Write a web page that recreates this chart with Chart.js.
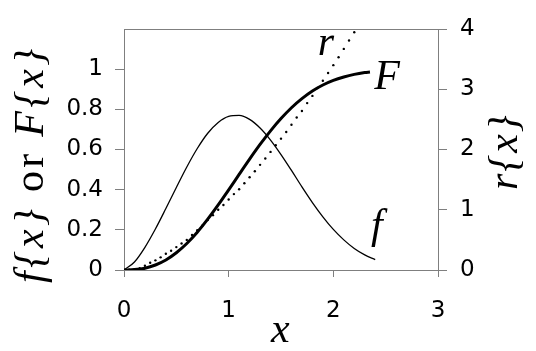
<!DOCTYPE html>
<html>
<head>
<meta charset="utf-8">
<script src="https://cdn.jsdelivr.net/npm/chart.js@4/dist/chart.umd.min.js"></script>
<style>
  html, body { margin: 0; padding: 0; background: #fff; }
  #chart { display: block; }
</style>
</head>
<body>
<canvas id="chart" width="536" height="351"></canvas>
<script>
// values
const xVals = [0, 0.1, 0.2, 0.3, 0.4, 0.5, 0.6, 0.7, 0.8, 0.9, 1.0, 1.1, 1.2,
               1.3, 1.4, 1.5, 1.6, 1.7, 1.8, 1.9, 2.0, 2.1, 2.2, 2.3, 2.4];
const fVals = [0, 0.040, 0.113, 0.204, 0.306, 0.411, 0.513, 0.605, 0.681, 0.735, 0.765, 0.770, 0.750,
               0.707, 0.647, 0.575, 0.496, 0.414, 0.336, 0.265, 0.202, 0.150, 0.107, 0.075, 0.052];
const xValsF = [0, 0.1, 0.2, 0.3, 0.4, 0.5, 0.6, 0.7, 0.8, 0.9, 1.0, 1.1, 1.2,
                1.3, 1.4, 1.5, 1.6, 1.7, 1.8, 1.9, 2.0, 2.1, 2.2, 2.3, 2.35];
const FVals = [0, 0.002, 0.009, 0.025, 0.050, 0.086, 0.132, 0.188, 0.253, 0.324, 0.399, 0.476, 0.552,
               0.625, 0.693, 0.754, 0.808, 0.853, 0.891, 0.921, 0.944, 0.961, 0.974, 0.983, 0.986];
// hazard r{x}: drawn as dots, one per 0.05 in x
const xValsR = [0, 0.05, 0.1, 0.15, 0.2, 0.25, 0.3, 0.35, 0.4, 0.45, 0.5, 0.55, 0.6, 0.65, 0.7, 0.75,
                0.8, 0.85, 0.9, 0.95, 1.0, 1.05, 1.1, 1.15, 1.2, 1.25, 1.3, 1.35, 1.4, 1.45, 1.5,
                1.55, 1.6, 1.65, 1.7, 1.75, 1.8, 1.85, 1.9, 1.95, 2.0, 2.05, 2.1, 2.15, 2.2];
const rVals = [0, 0.003, 0.01, 0.03, 0.07, 0.12, 0.16, 0.21, 0.27, 0.32, 0.38, 0.44, 0.50, 0.58, 0.66, 0.74,
               0.83, 0.91, 1.00, 1.08, 1.17, 1.26, 1.34, 1.44, 1.54, 1.64, 1.745, 1.85, 1.96, 2.07, 2.18,
               2.29, 2.41, 2.53, 2.64, 2.77, 2.89, 3.02, 3.14, 3.27, 3.40, 3.53, 3.67, 3.81, 3.945];
const xTicks = [0, 1, 2, 3];
const leftTicks = [0, 0.2, 0.4, 0.6, 0.8, 1];
const rightTicks = [0, 1, 2, 3, 4];

const pairs = (xs, ys) => xs.map((x, i) => ({ x: x, y: ys[i] }));

const AXIS_GREY = '#7f7f7f';
const TICK_FONT = { family: 'DejaVu Sans', size: 23 };
const MATH = 'italic 42px "Liberation Serif"';
const ROMAN = '42px "Liberation Serif"';

// draws text pieces one char at a time along the baseline, with extra spacing
function drawRun(ctx, pieces, x, y, spacing) {
    let cx = x;
    pieces.forEach(([text, font]) => {
        ctx.font = font;
        for (const ch of text) {
            ctx.fillText(ch, cx, y);
            cx += ctx.measureText(ch).width + spacing;
        }
    });
}

const decorations = {
    id: 'decorations',
    afterDatasetsDraw(chart) {
        const { ctx, chartArea, scales } = chart;
        ctx.save();
        // top frame line
        ctx.strokeStyle = AXIS_GREY;
        ctx.lineWidth = 1;
        ctx.beginPath();
        ctx.moveTo(chartArea.left, chartArea.top + 0.5);
        ctx.lineTo(chartArea.right, chartArea.top + 0.5);
        ctx.stroke();

        ctx.fillStyle = '#000';
        ctx.textAlign = 'left';
        ctx.textBaseline = 'alphabetic';

        // curve labels
        ctx.font = MATH;
        ctx.fillText('r', scales.x.getPixelForValue(1.85), scales.y.getPixelForValue(1.07));
        ctx.fillText('F', scales.x.getPixelForValue(2.39), scales.y.getPixelForValue(0.90));
        ctx.fillText('f', scales.x.getPixelForValue(2.36), scales.y.getPixelForValue(0.16));

        // x axis title
        ctx.fillText('x', 271, 342);

        // left title, rotated
        ctx.save();
        ctx.translate(43, 283);
        ctx.rotate(-Math.PI / 2);
        drawRun(ctx, [['f{x}', MATH], [' or ', ROMAN], ['F{x}', MATH]], 0, 0, 3.3);
        ctx.restore();

        // right title, rotated the same way
        ctx.save();
        ctx.translate(517, 190);
        ctx.rotate(-Math.PI / 2);
        drawRun(ctx, [['r{x}', MATH]], 0, 0, 2);
        ctx.restore();

        ctx.restore();
    }
};

const numLabel = v => String(Number(v.toFixed(1)));

new Chart(document.getElementById('chart'), {
    type: 'scatter',
    data: {
        datasets: [
            {
                label: 'f',
                data: pairs(xVals, fVals),
                showLine: true,
                borderColor: '#000',
                borderWidth: 1.3,
                pointRadius: 0,
                cubicInterpolationMode: 'monotone',
                yAxisID: 'y'
            },
            {
                label: 'F',
                data: pairs(xValsF, FVals),
                showLine: true,
                borderColor: '#000',
                borderWidth: 3,
                pointRadius: 0,
                cubicInterpolationMode: 'monotone',
                yAxisID: 'y'
            },
            {
                label: 'r',
                data: pairs(xValsR, rVals),
                showLine: false,
                backgroundColor: '#000',
                borderWidth: 0,
                pointRadius: 1.2,
                yAxisID: 'y2'
            }
        ]
    },
    options: {
        responsive: false,
        animation: false,
        devicePixelRatio: 1,
        layout: { padding: { top: 29, left: 0, right: 0, bottom: 0 } },
        plugins: { legend: { display: false }, tooltip: { enabled: false } },
        scales: {
            x: {
                type: 'linear',
                min: 0, max: 3,
                afterBuildTicks: s => { s.ticks = xTicks.map(v => ({ value: v })); },
                afterFit: s => { s.height = 81; },
                ticks: { font: TICK_FONT, color: '#000', padding: 20, callback: numLabel },
                grid: { drawOnChartArea: false, tickLength: 7, color: AXIS_GREY },
                border: { color: AXIS_GREY }
            },
            y: {
                position: 'left',
                min: 0, max: 1.2,
                afterBuildTicks: s => { s.ticks = leftTicks.map(v => ({ value: v })); },
                afterFit: s => { s.width = 124; },
                ticks: { font: TICK_FONT, color: '#000', padding: 12, callback: numLabel },
                grid: { drawOnChartArea: false, tickLength: 9, color: AXIS_GREY },
                border: { color: AXIS_GREY }
            },
            y2: {
                position: 'right',
                min: 0, max: 4,
                afterBuildTicks: s => { s.ticks = rightTicks.map(v => ({ value: v })); },
                afterFit: s => { s.width = 98; },
                ticks: { font: TICK_FONT, color: '#000', padding: 13, callback: numLabel },
                grid: { drawOnChartArea: false, tickLength: 9, color: AXIS_GREY },
                border: { color: AXIS_GREY }
            }
        }
    },
    plugins: [decorations]
});
</script>
</body>
</html>
